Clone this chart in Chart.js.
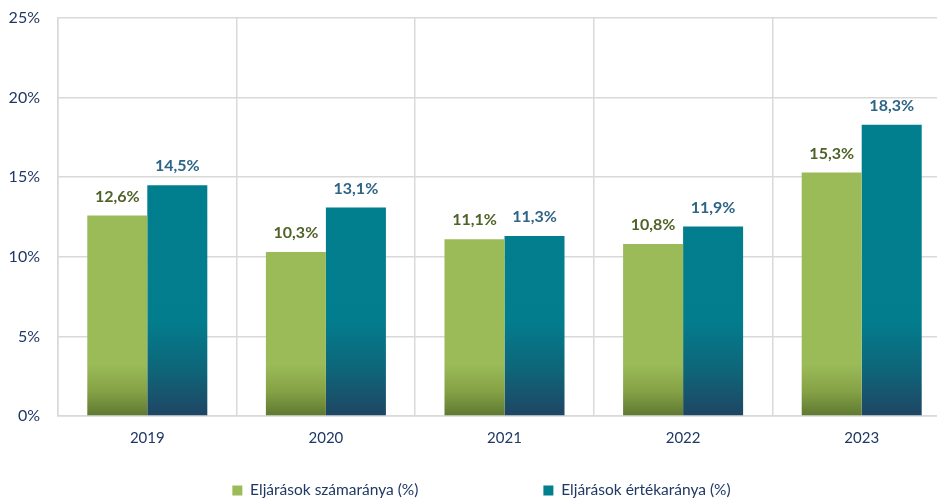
<!DOCTYPE html>
<html>
<head>
<meta charset="utf-8">
<script src="https://cdn.jsdelivr.net/npm/chart.js@4"></script>
<style>
html,body{margin:0;padding:0;overflow:hidden;background:#fff;}
#wrap{position:absolute;left:0;top:0;width:951px;height:501px;}
</style>
</head>
<body>
<div id="wrap"><canvas id="c"></canvas></div>
<script>
const categories = ['2019','2020','2021','2022','2023'];
const seriesNames = ['Eljárások számaránya (%)','Eljárások értékaránya (%)'];
const countShare = [12.6, 10.3, 11.1, 10.8, 15.3];
const valueShare = [14.5, 13.1, 11.3, 11.9, 18.3];
const yTicks = [0, 5, 10, 15, 20, 25];

const FONT = 'Lato, "Open Sans", sans-serif';
const NAVY = '#1F3864';
const LEGEND_GAP = 125;
const LEGEND_FONT = 15.5;

function greenGrad(ctx){
  const ch = ctx.chart, a = ch.chartArea;
  if(!a) return '#9BBB59';
  const g = ch.ctx.createLinearGradient(0, a.top, 0, a.bottom);
  g.addColorStop(0, '#9BBB59');
  g.addColorStop(0.87, '#9BBB59');
  g.addColorStop(0.94, '#84A145');
  g.addColorStop(1, '#5E7832');
  return g;
}
function tealGrad(ctx){
  const ch = ctx.chart, a = ch.chartArea;
  if(!a) return '#00808F';
  const g = ch.ctx.createLinearGradient(0, a.top, 0, a.bottom);
  g.addColorStop(0, '#00808F');
  g.addColorStop(0.76, '#027D8D');
  g.addColorStop(0.89, '#0F6478');
  g.addColorStop(1, '#1F4563');
  return g;
}

const labelPlugin = {
  id: 'valueLabels',
  afterDatasetsDraw(chart){
    const c = chart.ctx;
    const colors = ['#4F6228', '#2E6486'];
    chart.data.datasets.forEach((ds, di) => {
      const meta = chart.getDatasetMeta(di);
      meta.data.forEach((bar, i) => {
        c.save();
        c.font = 'bold 16px ' + FONT;
        c.fillStyle = colors[di];
        c.textAlign = 'center';
        c.textBaseline = 'middle';
        c.fillText(ds.data[i].toFixed(1).replace('.', ',') + '%', bar.x, bar.y - 19);
        c.restore();
      });
    });
  }
};

// Legend: wide horizontal gap between items, but a compact legend box height.
const legendFix = {
  id: 'legendFix',
  beforeLayout(chart){
    const l = chart.legend;
    if(l && !l._fixed){
      const orig = l.fit.bind(l);
      l.fit = function(){ orig(); this.height = 40; };
      l._fixed = true;
    }
  },
  afterLayout(chart){
    const l = chart.legend;
    if(l){
      const itemH = LEGEND_FONT * 1.2;
      l.top = 492 - itemH / 2 - LEGEND_GAP;
      l.left += 6; l.right += 6;
    }
  }
};

new Chart(document.getElementById('c'), {
  type: 'bar',
  data: {
    labels: categories,
    datasets: [
      {label: seriesNames[0], data: countShare, backgroundColor: greenGrad, borderWidth: 0,
       categoryPercentage: 0.672, barPercentage: 1.0},
      {label: seriesNames[1], data: valueShare, backgroundColor: tealGrad, borderWidth: 0,
       categoryPercentage: 0.672, barPercentage: 1.0}
    ]
  },
  options: {
    responsive: true,
    maintainAspectRatio: false,
    animation: false,
    layout: {padding: {top: 18, right: 0, left: 0, bottom: 0}},
    plugins: {
      tooltip: {enabled: false},
      legend: {
        position: 'bottom',
        labels: {
          color: NAVY,
          font: {family: FONT, size: LEGEND_FONT},
          boxWidth: 10,
          boxHeight: 10,
          padding: LEGEND_GAP,
          generateLabels(chart){
            const solid = ['#9BBB59', '#00808F'];
            return chart.data.datasets.map((d, i) => ({
              text: d.label, fillStyle: solid[i], strokeStyle: solid[i], lineWidth: 0,
              hidden: false, datasetIndex: i, fontColor: NAVY
            }));
          }
        }
      }
    },
    scales: {
      x: {
        offset: true,
        grid: {display: true, offset: true, color: '#D9D9D9', lineWidth: 1.5, drawTicks: false},
        border: {display: true, color: '#D9D9D9', width: 1.5},
        ticks: {color: NAVY, font: {family: FONT, size: 15}, padding: 13},
        afterFit(s){ s.height = 45; s.paddingLeft = 0; s.paddingRight = 0; }
      },
      y: {
        min: 0, max: 25,
        afterBuildTicks(s){ s.ticks = yTicks.map(v => ({value: v})); },
        grid: {color: '#D9D9D9', lineWidth: 1.5, drawTicks: false},
        border: {display: true, color: '#D9D9D9', width: 1.5},
        ticks: {color: NAVY, font: {family: FONT, size: 16}, padding: 18,
                callback: v => v + '%'},
        afterFit(s){ s.width = 58; s.paddingTop = 0; s.paddingBottom = 0; }
      }
    }
  },
  plugins: [labelPlugin, legendFix]
});
</script>
</body>
</html>
